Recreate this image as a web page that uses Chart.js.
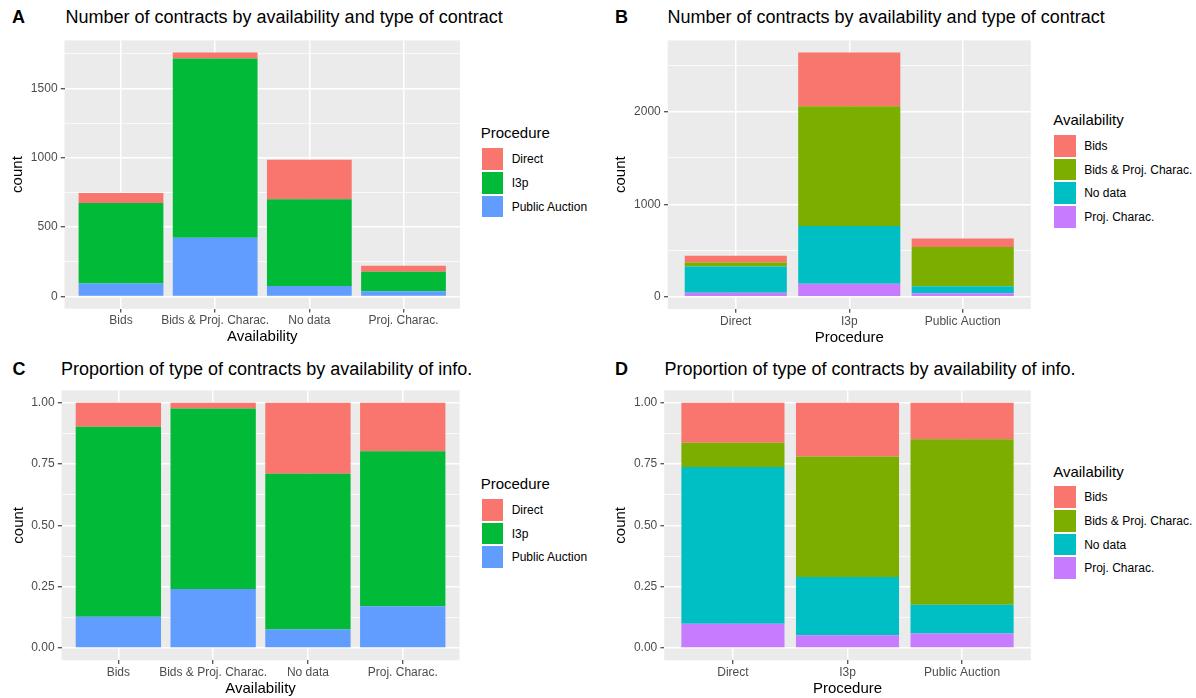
<!DOCTYPE html>
<html>
<head>
<meta charset="utf-8">
<script src="https://cdn.jsdelivr.net/npm/chart.js@4.4.0/dist/chart.umd.min.js"></script>
<style>
  html, body { margin: 0; padding: 0; background: #fff; overflow: hidden; }
  body { width: 1196px; height: 698px; position: relative; font-family: "Liberation Sans", Arial, sans-serif; }
  .txt { position: absolute; white-space: nowrap; }
  .key { position: absolute; }
  canvas { position: absolute; }
</style>
</head>
<body>
<script>
// categories
const availability = ['Bids', 'Bids & Proj. Charac.', 'No data', 'Proj. Charac.'];
const procedures = ['Direct', 'I3p', 'Public Auction'];

// number of contracts per procedure, one value per availability level (panels A, B)
const countDirect = [73, 42, 285, 43];
const countI3p = [580, 1293, 626, 140];
const countPublicAuction = [94, 424, 75, 38];

// proportion of each procedure within availability level (panel C)
const shareDirectC = [0.098, 0.024, 0.290, 0.198];
const shareI3pC = [0.775, 0.735, 0.634, 0.632];
const sharePublicAuctionC = [0.127, 0.241, 0.076, 0.170];

// proportion of each availability level within procedure (panel D)
const shareBidsD = [0.163, 0.219, 0.149];
const shareBidsProjD = [0.099, 0.491, 0.675];
const shareNoDataD = [0.639, 0.238, 0.117];
const shareProjD = [0.099, 0.052, 0.059];

// tick values
const ticksA = [0, 500, 1000, 1500];
const minorTicksA = [250, 750, 1250, 1750];
const ticksB = [0, 1000, 2000];
const minorTicksB = [500, 1500, 2500];
const ticksShare = [0, 0.25, 0.5, 0.75, 1];
const minorTicksShare = [0.125, 0.375, 0.625, 0.875];
const shareTickLabels = ['0.00', '0.25', '0.50', '0.75', '1.00'];

const procColors = ['#F8766D', '#00BA38', '#619CFF'];
const availColors = ['#F8766D', '#7CAE00', '#00BFC4', '#C77CFF'];

const FONT = '"Liberation Sans", Arial, sans-serif';
Chart.defaults.font.family = FONT;

// ---------- helpers ----------
function addText(text, left, baseline, size, color, weight) {
    const d = document.createElement('div');
    d.className = 'txt';
    d.textContent = text;
    d.style.left = left + 'px';
    d.style.top = (baseline - 0.8465 * size) + 'px';
    d.style.fontSize = size + 'px';
    d.style.lineHeight = size + 'px';
    d.style.color = color || '#000';
    if (weight) d.style.fontWeight = weight;
    document.body.appendChild(d);
}

function drawLegend(lg, title, names, colors) {
    addText(title, lg.x, lg.titleCap + 0.358 * 15, 15, '#000');
    names.forEach((name, i) => {
        const top = lg.keysTop + i * 23.7;
        const k = document.createElement('div');
        k.className = 'key';
        k.style.left = (lg.x + 1) + 'px';
        k.style.top = (top + 1) + 'px';
        k.style.width = '21.5px';
        k.style.height = '21.5px';
        k.style.background = colors[i];
        document.body.appendChild(k);
        addText(name, lg.x + 31, top + 11.8 + 4.3, 12, '#000');
    });
}

const panelBg = {
    id: 'panelBg',
    beforeDraw(chart) {
        const { ctx, chartArea: a } = chart;
        ctx.save();
        ctx.fillStyle = '#EBEBEB';
        ctx.fillRect(a.left, a.top, a.right - a.left, a.bottom - a.top);
        ctx.restore();
    }
};

function makePanel(p) {
    const c = p.canvas;
    const canvas = document.createElement('canvas');
    canvas.width = c.w;
    canvas.height = c.h;
    canvas.style.left = c.left + 'px';
    canvas.style.top = c.top + 'px';
    canvas.style.width = c.w + 'px';
    canvas.style.height = c.h + 'px';
    document.body.appendChild(canvas);

    const a = p.area;
    const yWidth = a.l - c.left;
    const xHeight = c.top + c.h - a.b;
    const nCat = p.categories.length;

    // first series in the legend sits on top of the stack
    const datasets = p.series.map((values, i) => ({
        label: p.names[i],
        data: values.map((v, j) => ({ x: j, y: v })),
        backgroundColor: p.colors[i],
        borderWidth: 0,
        barPercentage: 0.9,
        categoryPercentage: 1
    })).reverse();

    const isMajor = v => p.majorTicks.includes(v);

    new Chart(canvas, {
        type: 'bar',
        data: { datasets },
        options: {
            responsive: false,
            animation: false,
            devicePixelRatio: 1,
            layout: { padding: { left: 0, top: a.t - c.top, right: c.left + c.w - a.r, bottom: 0 } },
            plugins: { legend: { display: false }, tooltip: { enabled: false } },
            scales: {
                x: {
                    type: 'linear',
                    min: -0.6,
                    max: nCat - 1 + 0.6,
                    offset: false,
                    stacked: true,
                    afterBuildTicks: s => { s.ticks = p.categories.map((_, i) => ({ value: i })); },
                    afterFit: s => { s.height = xHeight; },
                    ticks: {
                        callback: v => p.categories[v],
                        color: '#4D4D4D',
                        font: { size: 12 },
                        padding: 1.4,
                        autoSkip: false,
                        maxRotation: 0,
                        minRotation: 0
                    },
                    grid: {
                        offset: false, color: '#FFFFFF', lineWidth: 1.5,
                        tickColor: '#333333', tickWidth: 1.1, tickLength: 3.75
                    },
                    border: { display: false },
                    title: {
                        display: true, text: p.xTitle, color: '#000000', font: { size: 15 },
                        padding: { top: 0, bottom: Math.max(0, c.top + c.h - p.xTitleY - 9) }
                    }
                },
                y: {
                    type: 'linear',
                    min: p.yMin,
                    max: p.yMax,
                    stacked: true,
                    afterBuildTicks: s => {
                        s.ticks = p.majorTicks.concat(p.minorTicks).sort((m, n) => m - n).map(v => ({ value: v }));
                    },
                    afterFit: s => { s.width = yWidth; },
                    ticks: {
                        callback: v => {
                            const i = p.majorTicks.indexOf(v);
                            return i < 0 ? '' : p.tickLabels[i];
                        },
                        color: '#4D4D4D',
                        font: { size: 12 },
                        padding: 3.2
                    },
                    grid: {
                        color: '#FFFFFF',
                        lineWidth: ctx => isMajor(ctx.tick.value) ? 1.5 : 0.75,
                        tickColor: ctx => isMajor(ctx.tick.value) ? '#333333' : 'rgba(0,0,0,0)',
                        tickWidth: 1.1,
                        tickLength: 3.75
                    },
                    border: { display: false },
                    title: {
                        display: true, text: 'count', color: '#000000', font: { size: 15 },
                        padding: { top: p.yTitleX - c.left - 9, bottom: 0 }
                    }
                }
            }
        },
        plugins: [panelBg]
    });

    addText(p.letter, p.letterX, p.titleBase, 18, '#000', 'bold');
    addText(p.title, p.titleX, p.titleBase, 18, '#000');
    drawLegend(p.legend, p.legendTitle, p.names, p.colors);
}

// ---------- build ----------
const countByProc = [countDirect, countI3p, countPublicAuction];
const totalsA = availability.map((_, i) => countByProc.reduce((s, arr) => s + arr[i], 0));
const totalsB = countByProc.map(arr => arr.reduce((s, v) => s + v, 0));
const maxA = Math.max(...totalsA);
const maxB = Math.max(...totalsB);
const countByAvail = availability.map((_, a) => procedures.map((_, j) => countByProc[j][a]));

makePanel({
    letter: 'A', letterX: 12, titleX: 65.5, titleBase: 23.3,
    title: 'Number of contracts by availability and type of contract',
    canvas: { left: 0, top: 30, w: 463, h: 320 },
    area: { l: 64.5, t: 35, r: 460, b: 308.7 },
    yTitleX: 18, xTitleY: 337.1,
    categories: availability, xTitle: 'Availability',
    names: procedures, colors: procColors,
    series: [countDirect, countI3p, countPublicAuction],
    yMin: -0.05 * maxA, yMax: 1.05 * maxA,
    majorTicks: ticksA, minorTicks: minorTicksA, tickLabels: ticksA.map(String),
    legendTitle: 'Procedure', legend: { x: 480.7, titleCap: 132.3, keysTop: 147.3 }
});

makePanel({
    letter: 'B', letterX: 615, titleX: 667.5, titleBase: 23.3,
    title: 'Number of contracts by availability and type of contract',
    canvas: { left: 600, top: 30, w: 434, h: 320 },
    area: { l: 667.7, t: 35, r: 1030.8, b: 309 },
    yTitleX: 621, xTitleY: 337.5,
    categories: procedures, xTitle: 'Procedure',
    names: availability, colors: availColors,
    series: countByAvail,
    yMin: -0.05 * maxB, yMax: 1.05 * maxB,
    majorTicks: ticksB, minorTicks: minorTicksB, tickLabels: ticksB.map(String),
    legendTitle: 'Availability', legend: { x: 1053.2, titleCap: 119.7, keysTop: 134 }
});

makePanel({
    letter: 'C', letterX: 12.5, titleX: 61, titleBase: 374.8,
    title: 'Proportion of type of contracts by availability of info.',
    canvas: { left: 0, top: 380, w: 463, h: 318 },
    area: { l: 61.5, t: 386, r: 459.6, b: 660.3 },
    yTitleX: 18.6, xTitleY: 688.8,
    categories: availability, xTitle: 'Availability',
    names: procedures, colors: procColors,
    series: [shareDirectC, shareI3pC, sharePublicAuctionC],
    yMin: -0.05, yMax: 1.05,
    majorTicks: ticksShare, minorTicks: minorTicksShare, tickLabels: shareTickLabels,
    legendTitle: 'Procedure', legend: { x: 480.7, titleCap: 483.3, keysTop: 498 }
});

makePanel({
    letter: 'D', letterX: 615, titleX: 664.4, titleBase: 374.8,
    title: 'Proportion of type of contracts by availability of info.',
    canvas: { left: 600, top: 380, w: 434, h: 318 },
    area: { l: 664.2, t: 386, r: 1030.8, b: 660.3 },
    yTitleX: 621, xTitleY: 688.5,
    categories: procedures, xTitle: 'Procedure',
    names: availability, colors: availColors,
    series: [shareBidsD, shareBidsProjD, shareNoDataD, shareProjD],
    yMin: -0.05, yMax: 1.05,
    majorTicks: ticksShare, minorTicks: minorTicksShare, tickLabels: shareTickLabels,
    legendTitle: 'Availability', legend: { x: 1053.2, titleCap: 471.2, keysTop: 485.3 }
});
</script>
</body>
</html>
